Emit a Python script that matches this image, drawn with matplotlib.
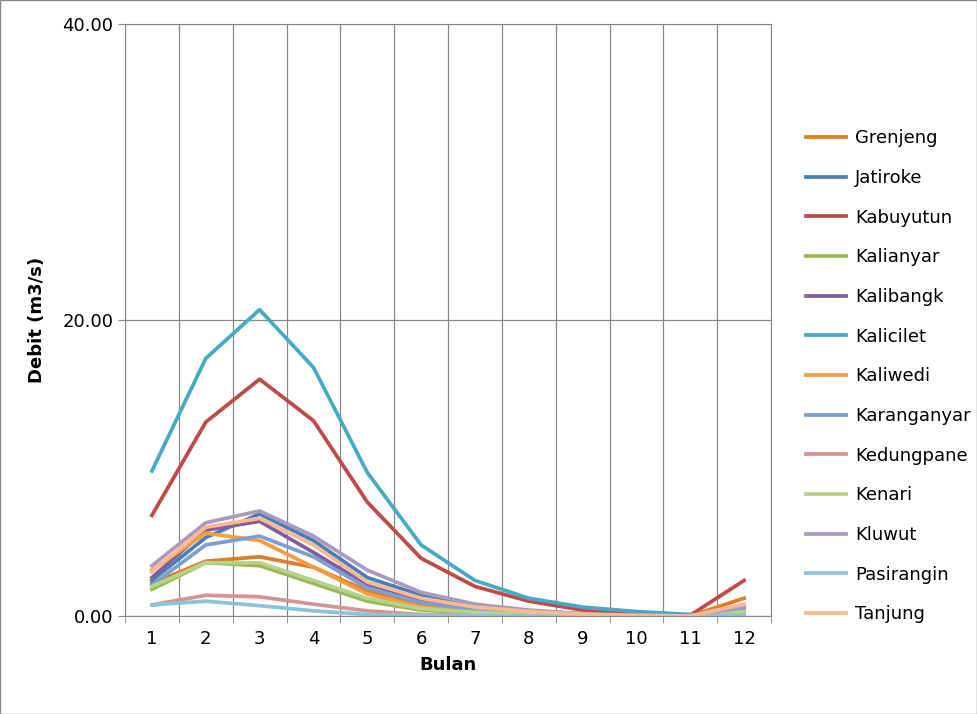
import matplotlib.pyplot as plt
import numpy as np

months = list(range(1, 13))
names = ["Grenjeng", "Jatiroke", "Kabuyutun", "Kalianyar", "Kalibangk", "Kalicilet", "Kaliwedi",
         "Karanganyar", "Kedungpane", "Kenari", "Kluwut", "Pasirangin", "Tanjung"]
colors = ["#E07B2A", "#4A7EBB", "#BE4B48", "#98B954", "#7D60A0", "#46AAC5", "#F59D3D",
          "#7E9ECF", "#D69593", "#B7D289", "#A99BBD", "#8CC4D9", "#F7BB8F"]

grenjeng = [2.2, 3.7, 4.0, 3.3, 1.7, 0.7, 0.35, 0.15, 0.07, 0.03, 0.0, 1.2]
jatiroke = [2.4, 5.3, 6.9, 5.1, 2.6, 1.4, 0.7, 0.35, 0.15, 0.05, 0.0, 0.4]
kabuyutun = [6.8, 13.1, 16.0, 13.2, 7.7, 3.9, 2.0, 1.0, 0.4, 0.2, 0.05, 2.4]
kalianyar = [1.8, 3.6, 3.4, 2.2, 1.0, 0.4, 0.2, 0.1, 0.05, 0.02, 0.0, 0.3]
kalibangk = [2.6, 5.8, 6.4, 4.3, 2.1, 1.0, 0.5, 0.25, 0.1, 0.04, 0.0, 0.4]
kalicilet = [9.8, 17.4, 20.7, 16.8, 9.7, 4.8, 2.4, 1.2, 0.6, 0.3, 0.1, 0.0]
kaliwedi = [3.1, 5.6, 5.1, 3.3, 1.5, 0.6, 0.3, 0.15, 0.06, 0.02, 0.0, 0.5]
karanganyar = [2.1, 4.8, 5.4, 4.0, 1.9, 0.9, 0.45, 0.2, 0.08, 0.03, 0.0, 0.4]
kedungpane = [0.75, 1.4, 1.3, 0.8, 0.35, 0.1, 0.05, 0.02, 0.0, 0.0, 0.0, 0.1]
kenari = [2.0, 3.6, 3.6, 2.4, 1.2, 0.5, 0.25, 0.1, 0.05, 0.02, 0.0, 0.3]
kluwut = [3.4, 6.3, 7.1, 5.4, 3.1, 1.6, 0.8, 0.4, 0.15, 0.05, 0.0, 0.6]
pasirangin = [0.75, 1.0, 0.7, 0.35, 0.1, 0.05, 0.02, 0.0, 0.0, 0.0, 0.0, 0.05]
tanjung = [3.0, 6.0, 6.6, 4.8, 2.3, 1.2, 0.6, 0.3, 0.12, 0.04, 0.0, 0.8]

series = [grenjeng, jatiroke, kabuyutun, kalianyar, kalibangk, kalicilet, kaliwedi,
          karanganyar, kedungpane, kenari, kluwut, pasirangin, tanjung]

fig = plt.figure(figsize=(9.77, 7.14), dpi=100)
ax = fig.add_axes([125 / 977, 1 - 616 / 714, 646 / 977, 592 / 714])
for name, vals, c in zip(names, series, colors):
    ax.plot(months, vals, color=c, linewidth=2.7, label=name)

ax.set_xlim(0.5, 12.5)
ax.set_ylim(0, 40)
ax.set_yticks([0, 20, 40])
ax.set_yticklabels(["0.00", "20.00", "40.00"], fontsize=13)
ax.set_xticks(months)
ax.set_xticklabels([str(m) for m in months], fontsize=13)
ax.set_xticks(np.arange(0.5, 13, 1), minor=True)
ax.tick_params(axis="x", which="major", length=0, pad=10)
ax.tick_params(axis="x", which="minor", length=5, color="#888888")
ax.tick_params(axis="y", length=5, color="#888888")
ax.grid(axis="x", which="minor", color="#888888", linewidth=0.9)
ax.grid(axis="y", which="major", color="#888888", linewidth=0.9)
ax.set_axisbelow(True)
for s in ax.spines.values():
    s.set_color("#888888")
ax.set_xlabel("Bulan", fontsize=13, fontweight="bold", labelpad=6)
ax.set_ylabel("Debit (m3/s)", fontsize=13, fontweight="bold", labelpad=12)

fig.legend(loc="upper left", bbox_to_anchor=(790 / 977, 1 - 113 / 714), frameon=False,
           fontsize=13, handlelength=2.2, labelspacing=1.2, handletextpad=0.5)
fig.add_artist(plt.Rectangle((0, 0), 1, 1, transform=fig.transFigure, fill=False,
                             edgecolor="#888888", linewidth=1))
fig.savefig("out.png", dpi=100)
